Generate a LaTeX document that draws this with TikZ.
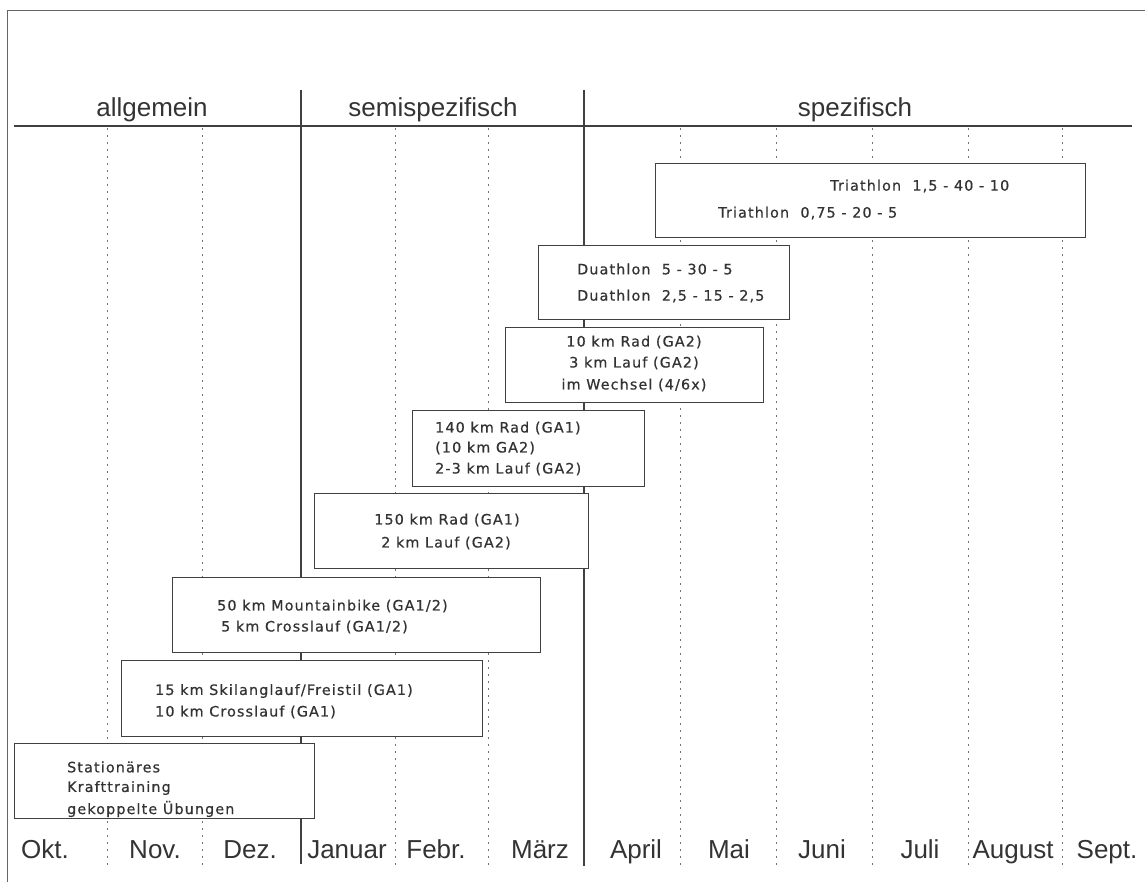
\documentclass[tikz,border=0pt]{standalone}
\usepackage{fontspec}
\setmainfont{Liberation Sans}
\newfontfamily\boxfont[LetterSpace=8,FakeBold=0.6]{DejaVu Sans}
\begin{document}
\begin{tikzpicture}[x=1pt,y=-1pt,
  ink/.style={draw=black!75},
  frame/.style={draw=black!60, line width=0.9pt},
  phase/.style={draw=black!75, line width=1.1pt},
  grid/.style={draw=black!55, line width=0.6pt, dash pattern=on 2pt off 5pt},
  box/.style={draw=black!75, fill=white, line width=1.1pt, inner sep=0pt, anchor=north west},
  btxt/.style={font=\boxfont\fontsize{14.3}{21}\selectfont, text=black!80, inner sep=0pt},
  big/.style={font=\fontsize{26}{30}\selectfont, text=black!80, inner sep=0pt, anchor=base}]
\useasboundingbox (0,0) rectangle (1145,882);
% frame
\coordinate (f1) at (7,882);
\coordinate (f2) at (7,10);
\coordinate (f3) at (1145,10);
\draw[frame] (f1) -- (f2) -- (f3);
% header line
\coordinate (h1) at (14,126);
\coordinate (h2) at (1132,126);
\draw[ink, line width=1.1pt] (h1) -- (h2);
% dotted month lines
\foreach \x/\n in {107/a,202/b,395/c,488/d,680/e,776/f,872/g,968/h,1062/i}{
  \coordinate (gt\n) at (\x,128);
  \coordinate (gb\n) at (\x,866);
  \draw[grid] (gt\n) -- (gb\n);
}
% phase lines
\coordinate (p1t) at (301,90);
\coordinate (p1b) at (301,864);
\coordinate (p2t) at (584,90);
\coordinate (p2b) at (584,866);
\draw[phase] (p1t) -- (p1b);
\draw[phase] (p2t) -- (p2b);
% headers
\node[big] (hA) at (152,117) {allgemein};
\node[big] (hB) at (433,117) {semispezifisch};
\node[big] (hC) at (855,117) {spezifisch};
% months
\foreach \x/\m/\n in {45/Okt./m1,155/Nov./m2,250/Dez./m3,347/Januar/m4,436/Febr./m5,540/März/m6,636/April/m7,729/Mai/m8,822/Juni/m9,920/Juli/m10,1013/August/m11,1107/Sept./m12}{
  \node[big] (\n) at (\x,858) {\m};
}
% boxes
\node[box, minimum width=430pt, minimum height=74pt] (tri) at (655,163) {};
\node[btxt, anchor=west] (tri1) at (830,186) {Triathlon\ \ 1,5 - 40 - 10};
\node[btxt, anchor=west] (tri2) at (718,213) {Triathlon\ \ 0,75 - 20 - 5};

\node[box, minimum width=251pt, minimum height=74pt] (dua) at (538,245) {};
\node[btxt, anchor=west] (dua1) at (577,269) {Duathlon\ \ 5 - 30 - 5};
\node[btxt, anchor=west] (dua2) at (577,296) {Duathlon\ \ 2,5 - 15 - 2,5};

\node[box, minimum width=258pt, minimum height=75pt] (wech) at (505,327) {};
\node[btxt, anchor=center] (wech1) at (634,342) {10 km Rad (GA2)};
\node[btxt, anchor=center] (wech2) at (634,363) {3 km Lauf (GA2)};
\node[btxt, anchor=center] (wech3) at (634,385) {im Wechsel (4/6x)};

\node[box, minimum width=232pt, minimum height=76pt] (r140) at (412,410) {};
\node[btxt, anchor=west] (r1401) at (435,428) {140 km Rad (GA1)};
\node[btxt, anchor=west] (r1402) at (435,448) {(10 km GA2)};
\node[btxt, anchor=west] (r1403) at (435,469) {2-3 km Lauf (GA2)};

\node[box, minimum width=274pt, minimum height=75pt] (r150) at (314,493) {};
\node[btxt, anchor=center] (r1501) at (447,520) {150 km Rad (GA1)};
\node[btxt, anchor=center] (r1502) at (446,543) {2 km Lauf (GA2)};

\node[box, minimum width=368pt, minimum height=75pt] (mtb) at (172,577) {};
\node[btxt, anchor=west] (mtb1) at (217,606) {50 km Mountainbike (GA1/2)};
\node[btxt, anchor=west] (mtb2) at (221,627) {5 km Crosslauf (GA1/2)};

\node[box, minimum width=361pt, minimum height=76pt] (ski) at (121,660) {};
\node[btxt, anchor=west] (ski1) at (155,691) {15 km Skilanglauf/Freistil (GA1)};
\node[btxt, anchor=west] (ski2) at (155,712) {10 km Crosslauf (GA1)};

\node[box, minimum width=300pt, minimum height=75pt] (kraft) at (14,743) {};
\node[btxt, anchor=west] (kraft1) at (67,767) {Stationäres};
\node[btxt, anchor=west] (kraft2) at (67,788) {Krafttraining};
\node[btxt, anchor=west] (kraft3) at (67,809) {gekoppelte Übungen};
\end{tikzpicture}
\end{document}
